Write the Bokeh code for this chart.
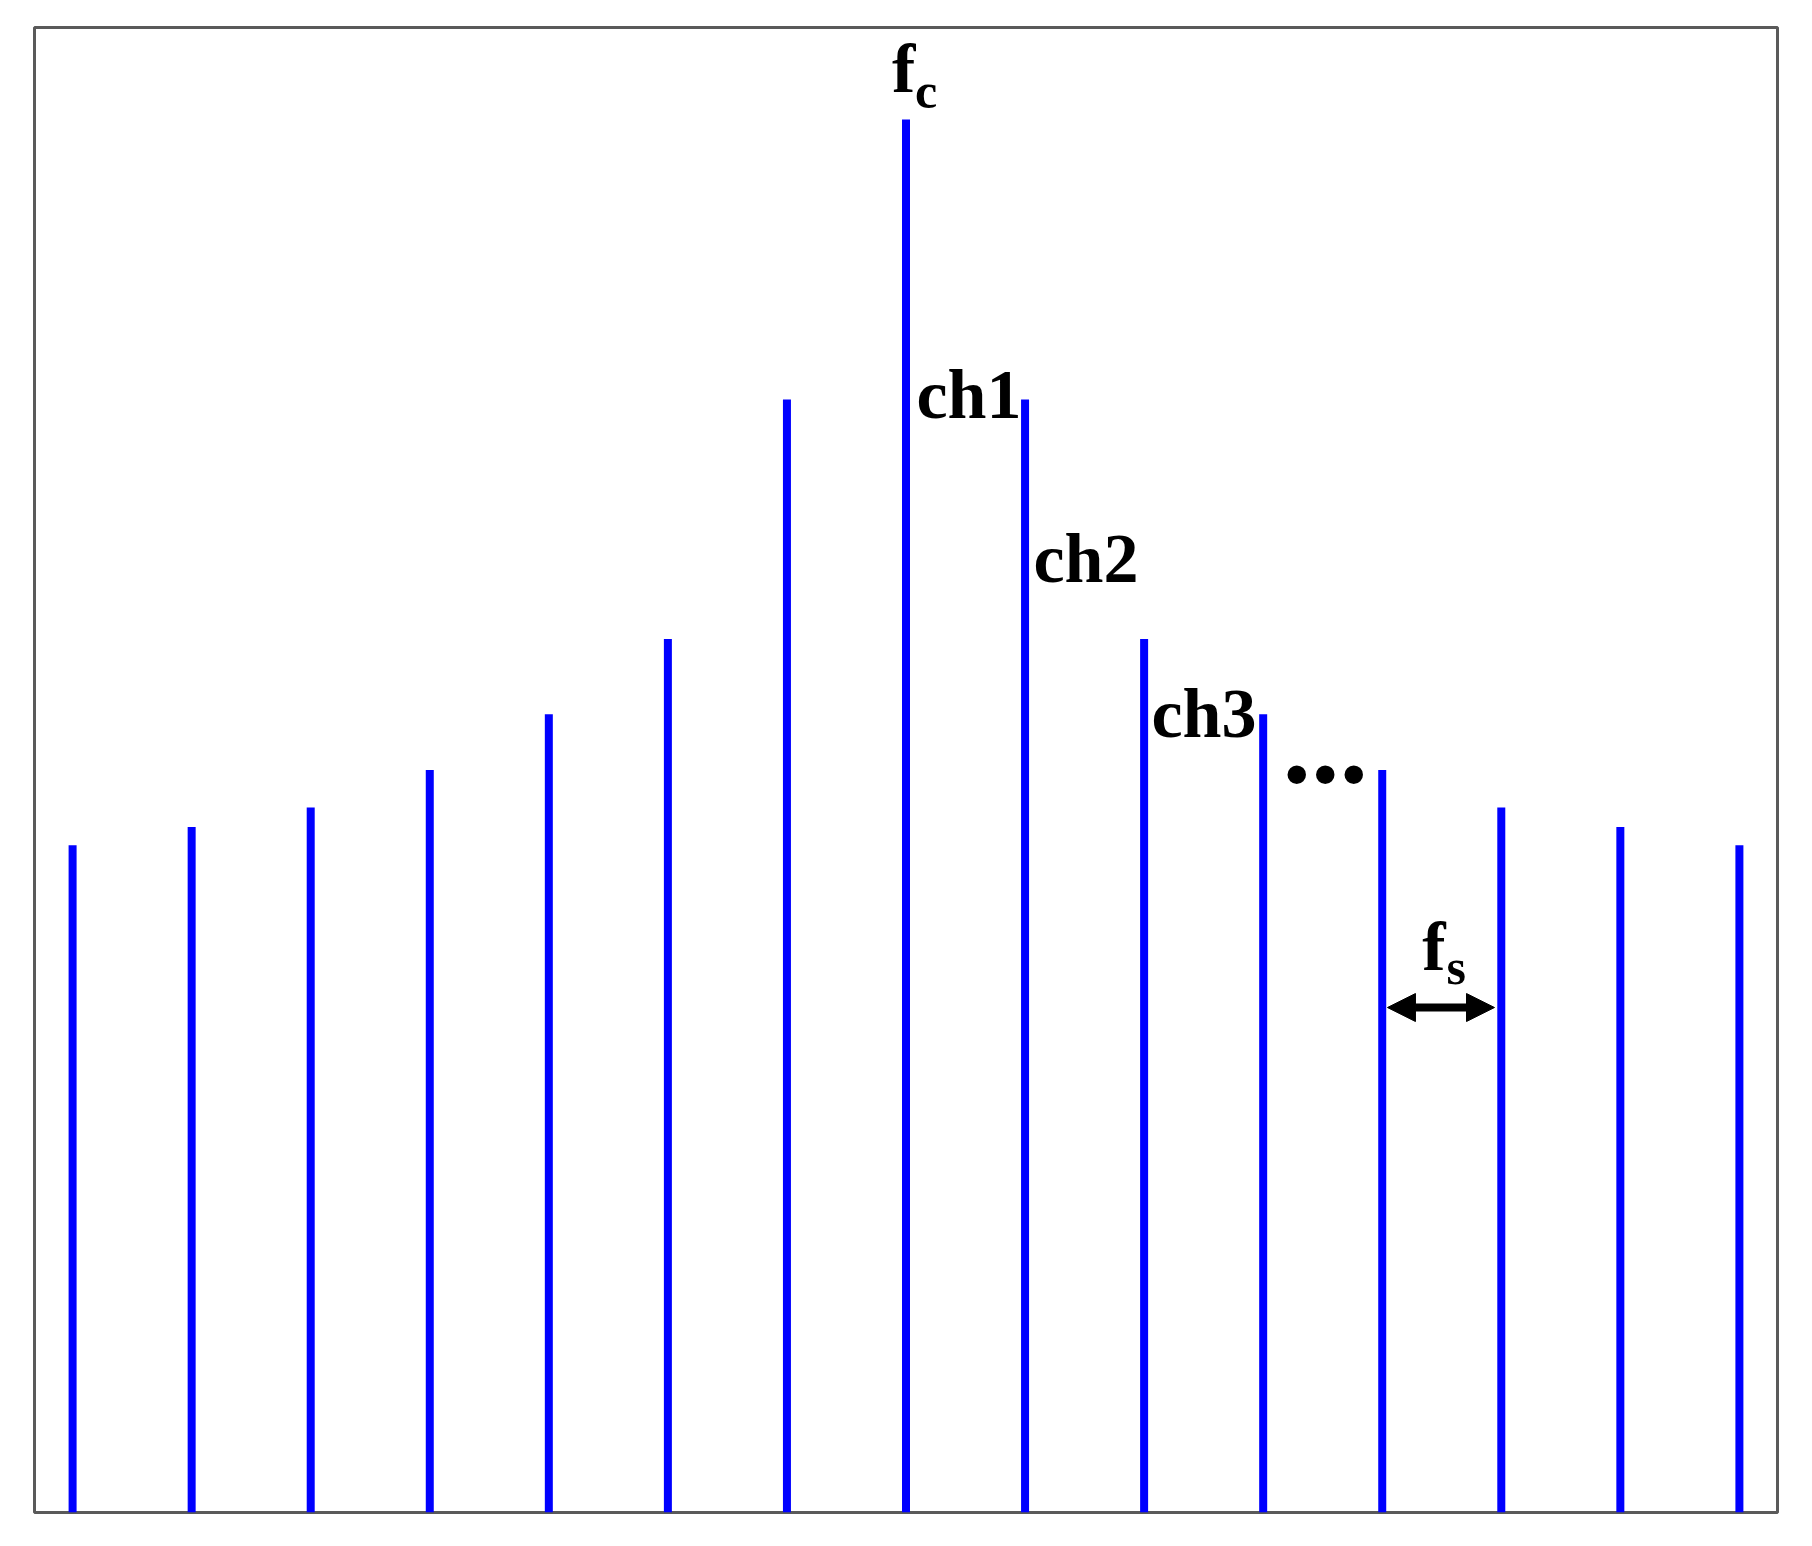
from bokeh.plotting import figure
from bokeh.models import Range1d, Label, Arrow, NormalHead
from bokeh.embed import file_html
from bokeh.resources import INLINE

# Channel index (relative to the carrier fc) and normalized amplitude
channel = [-7, -6, -5, -4, -3, -2, -1, 0, 1, 2, 3, 4, 5, 6, 7]
amplitude = [0.479, 0.492, 0.506, 0.533, 0.573, 0.627, 0.799, 1.0,
             0.799, 0.627, 0.573, 0.533, 0.506, 0.492, 0.479]
base = [0.0] * len(channel)

p = figure(frame_width=1743, frame_height=1485,
           x_range=Range1d(-7.32, 7.32), y_range=Range1d(0, 1.066),
           x_axis_type=None, y_axis_type=None,
           output_backend="svg", toolbar_location=None,
           min_border_left=34, min_border_top=27,
           min_border_right=27, min_border_bottom=20)
p.grid.visible = False
p.outline_line_color = "#5a5a5a"
p.outline_line_width = 3
p.background_fill_color = "white"

p.segment(x0=channel, y0=base, x1=channel, y1=amplitude,
          line_color="#0000ff", line_width=8, line_cap="butt")

FONT = "Liberation Serif"

def lab(x, y, t, size=70, off=24):
    p.add_layout(Label(x=x, y=y, text=t, text_font=FONT,
                       text_font_size=f"{size}px", y_offset=off,
                       text_font_style="bold", text_color="black",
                       text_align="left", text_baseline="alphabetic"))

lab(-0.118, 1.0194, "f")
lab(0.075, 1.0086, "c", 50, 16)
lab(0.088, 0.7854, "ch1")
lab(1.071, 0.6676, "ch2")
lab(2.062, 0.5563, "ch3")
lab(3.162, 0.5233, "...", 114, 39)
lab(4.336, 0.389, "f")
lab(4.540, 0.3798, "s", 50, 16)

p.add_layout(Arrow(x_start=4.044, x_end=4.943, y_start=0.3625, y_end=0.3625,
                   line_color="black", line_width=8,
                   start=NormalHead(size=28, fill_color="black", line_color="black"),
                   end=NormalHead(size=28, fill_color="black", line_color="black")))

open("out.html", "w").write(file_html(p, INLINE))
